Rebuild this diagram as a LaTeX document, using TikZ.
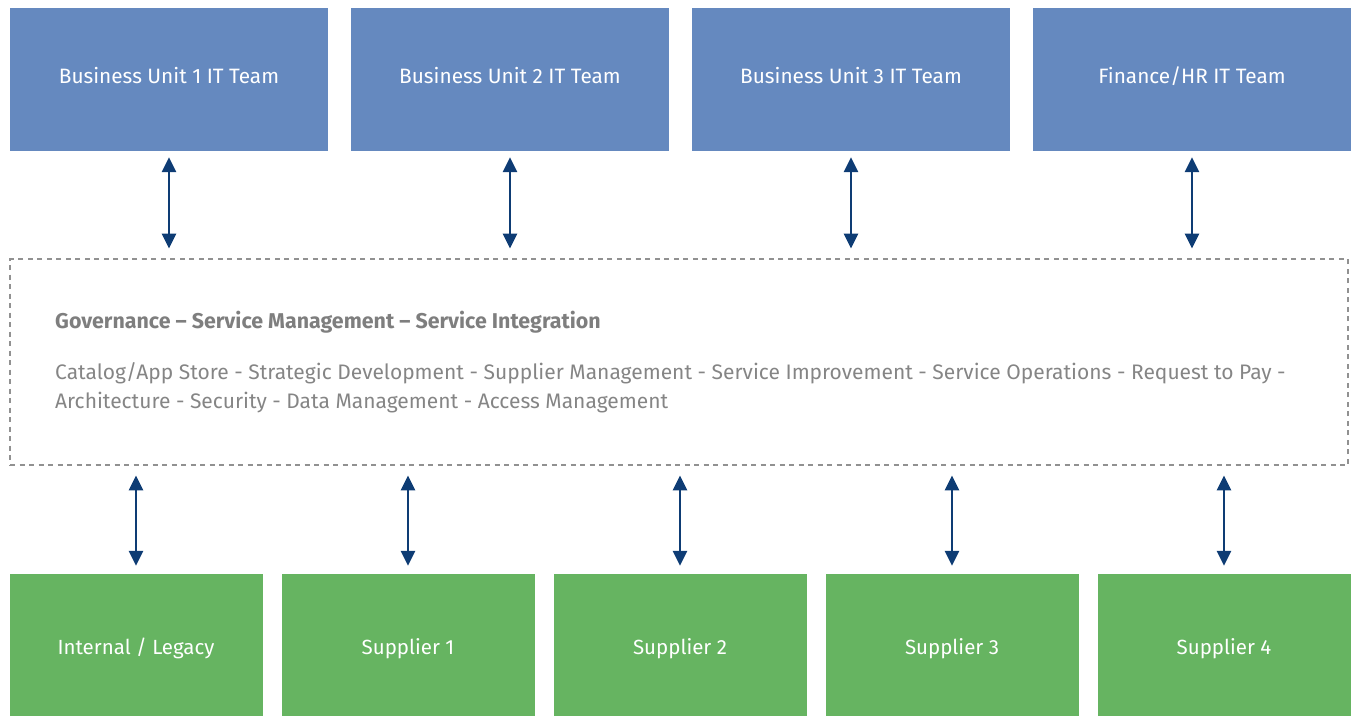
\documentclass[tikz,border=0pt]{standalone}
\usepackage{fontspec}
\setmainfont{Fira Sans}
\usetikzlibrary{arrows.meta}
\definecolor{unitblue}{HTML}{6589BF}
\definecolor{suppgreen}{HTML}{66B461}
\definecolor{arrownavy}{HTML}{0E3C74}
\definecolor{hubgrey}{HTML}{858585}
\tikzset{
  unitbox/.style={fill=unitblue, text=white, minimum width=318, minimum height=143, inner sep=0, text height=15, text depth=7.5, font=\fontsize{20.8}{25}\selectfont},
  suppbox/.style={fill=suppgreen, text=white, minimum width=253, minimum height=142, inner sep=0, text height=19, text depth=0, font=\fontsize{20.5}{25}\selectfont},
  hubbox/.style={draw=hubgrey!90, line width=2.8, dash pattern=on 5 off 4.5, minimum width=1338, minimum height=206, inner sep=0},
  link/.style={draw=arrownavy, line width=2.8, {Triangle[length=15,width=14]}-{Triangle[length=15,width=14]}},
}
\begin{document}
\begin{tikzpicture}[x=1pt, y=-1pt]
  \useasboundingbox (0, 0) rectangle (1352, 716);
  % top row
  \node[unitbox] (bu1) at (169, 79.5) {Business Unit 1 IT Team};
  \node[unitbox] (bu2) at (510, 79.5) {Business Unit 2 IT Team};
  \node[unitbox] (bu3) at (851, 79.5) {Business Unit 3 IT Team};
  \node[unitbox] (fin) at (1192, 79.5) {Finance/HR IT Team};
  % middle
  \node[hubbox] (hub) at (679, 362) {};
  \node[anchor=west, inner sep=0, text=hubgrey!95!black, font=\fontsize{21.4}{25}\selectfont\bfseries] (title) at (55, 322) {Governance -- Service Management -- Service Integration};
  \node[anchor=north west, text=hubgrey, align=left, inner sep=0, font=\fontsize{21}{29.5}\selectfont] (tasks) at (55, 362) {Catalog/App Store - Strategic Development - Supplier Management - Service Improvement - Service Operations - Request to Pay -\\Architecture - Security - Data Management - Access Management};
  % bottom row
  \node[suppbox] (leg) at (136, 645) {Internal / Legacy};
  \node[suppbox] (sup1) at (408, 645) {Supplier 1};
  \node[suppbox] (sup2) at (680, 645) {Supplier 2};
  \node[suppbox] (sup3) at (952, 645) {Supplier 3};
  \node[suppbox] (sup4) at (1224, 645) {Supplier 4};
  % arrows
  \foreach \n in {bu1, bu2, bu3, fin}
    \draw[link, shorten <=6, shorten >=9] (\n.south) -- (\n.south |- hub.north);
  \foreach \n in {leg, sup1, sup2, sup3, sup4}
    \draw[link, shorten <=8, shorten >=9] (\n.north) -- (\n.north |- hub.south);
\end{tikzpicture}
\end{document}
